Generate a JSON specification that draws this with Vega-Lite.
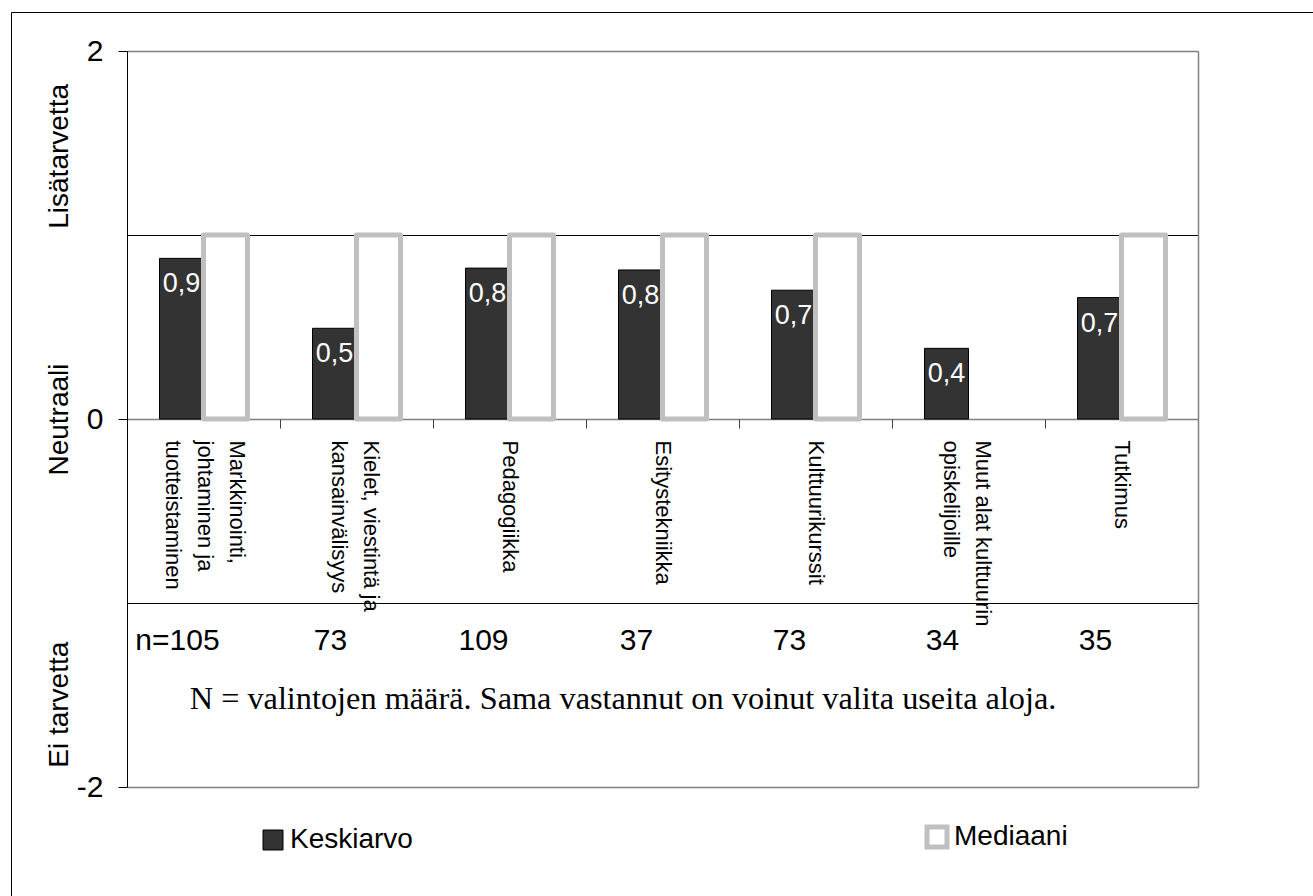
{
  "$schema": "https://vega.github.io/schema/vega-lite/v6.json",
  "autosize": {"type": "none"},
  "padding": {"left": 11, "top": 12, "right": -3, "bottom": -3},
  "width": 1305,
  "height": 887,
  "background": "white",
  "config": {
    "view": {"stroke": "#000000", "strokeWidth": 1, "fill": "white"},
    "font": "Liberation Sans",
    "locale": {"number": {"decimal": ",", "thousands": " ", "grouping": [3], "currency": ["", " €"], "minus": "-"}},
    "axis": {"labelColor": "#000000", "labelFont": "Liberation Sans", "title": null}
  },
  "datasets": {
    "cats": [
      {"cat": "Markkinointi,|johtaminen ja|tuotteistaminen", "Keskiarvo": 0.873, "Mediaani": 1, "n": "n=105"},
      {"cat": "Kielet, viestintä ja|kansainvälisyys", "Keskiarvo": 0.493, "Mediaani": 1, "n": "73"},
      {"cat": "Pedagogiikka", "Keskiarvo": 0.82, "Mediaani": 1, "n": "109"},
      {"cat": "Esitystekniikka", "Keskiarvo": 0.81, "Mediaani": 1, "n": "37"},
      {"cat": "Kulttuurikurssit", "Keskiarvo": 0.70, "Mediaani": 1, "n": "73"},
      {"cat": "Muut alat kulttuurin|opiskelijoille", "Keskiarvo": 0.384, "Mediaani": 0, "n": "34"},
      {"cat": "Tutkimus", "Keskiarvo": 0.66, "Mediaani": 1, "n": "35"}
    ],
    "note": [
      {"note": "N = valintojen määrä. Sama vastannut on voinut valita useita aloja."}
    ]
  },
  "data": {"name": "cats"},
  "resolve": {"axis": {"y": "independent"}},
  "layer": [
    {
      "transform": [{"fold": ["Keskiarvo", "Mediaani"], "as": ["series", "value"]}],
      "mark": {"type": "bar", "strokeJoin": "round"},
      "encoding": {
        "x": {
          "field": "cat", "type": "nominal", "sort": null,
          "scale": {"range": [116, 1187], "paddingInner": 0, "paddingOuter": 0},
          "axis": {
            "orient": "bottom", "offset": -480, "domain": false, "ticks": true,
            "tickBand": "extent", "tickSize": 9, "tickColor": "#404040",
            "labelAngle": 90, "labelAlign": "left", "labelBaseline": "middle",
            "labelPadding": 12, "labelFontSize": 22, "labelLineHeight": 32,
            "labelOffset": {
              "condition": [
                {"test": "indexof(datum.label, 'Markkinointi') >= 0", "value": 33},
                {"test": "indexof(datum.label, '|') >= 0", "value": 14}
              ],
              "value": 0
            },
            "labelExpr": "split(datum.label, '|')", "labelLimit": 400,
            "labelOverlap": false, "labelBound": false, "labelFlush": false,
            "labelColor": "#000000",
            "grid": false, "title": null
          }
        },
        "xOffset": {
          "field": "series", "type": "nominal", "sort": ["Keskiarvo", "Mediaani"],
          "scale": {"paddingInner": 0, "paddingOuter": 0.739}
        },
        "y": {
          "field": "value", "type": "quantitative",
          "scale": {"domain": [-2, 2], "range": [775, 39], "nice": false, "zero": false},
          "axis": {
            "orient": "left", "offset": -116, "values": [-2, 0, 2],
            "format": "d", "tickSize": 9, "tickColor": "#000000",
            "domainColor": "#000000", "domainWidth": 1,
            "grid": true, "gridColor": "#808080", "gridWidth": 1.5,
            "labelFontSize": 30, "labelPadding": 15, "title": null,
            "labelOverlap": false, "labelBound": false, "labelFlush": false
          }
        },
        "fill": {
          "field": "series", "type": "nominal",
          "scale": {"domain": ["Keskiarvo", "Mediaani"], "range": ["#333333", "#ffffff"]},
          "legend": {
            "orient": "none", "legendX": 248, "legendY": 811, "direction": "horizontal",
            "title": null, "symbolType": "square", "symbolSize": 400,
            "labelFontSize": 28, "labelFont": "Liberation Sans", "labelColor": "#000000",
            "columnPadding": 504, "labelOffset": 3, "padding": 0
          }
        },
        "stroke": {
          "field": "series", "type": "nominal",
          "scale": {"domain": ["Keskiarvo", "Mediaani"], "range": ["#000000", "#c0c0c0"]}
        },
        "strokeWidth": {
          "field": "series", "type": "ordinal",
          "scale": {"domain": ["Keskiarvo", "Mediaani"], "range": [1, 5]}
        },
        "strokeOpacity": {"condition": {"test": "datum.value === 0", "value": 0}, "value": 1}
      }
    },
    {
      "transform": [
        {"fold": ["Keskiarvo", "Mediaani"], "as": ["series", "value"]},
        {"filter": "datum.series === 'Keskiarvo'"}
      ],
      "mark": {"type": "text", "color": "white", "fontSize": 27, "baseline": "middle", "align": "center", "dy": 26},
      "encoding": {
        "x": {"field": "cat", "type": "nominal", "sort": null},
        "xOffset": {"field": "series", "type": "nominal", "sort": ["Keskiarvo", "Mediaani"]},
        "y": {
          "field": "value", "type": "quantitative",
          "axis": {
            "orient": "left", "offset": -116, "values": [1, -1],
            "grid": true, "gridColor": "#000000", "gridWidth": 1,
            "domain": false, "ticks": false, "labels": false, "title": null
          }
        },
        "text": {"field": "value", "type": "quantitative", "format": ".1f"}
      }
    },
    {
      "mark": {"type": "text", "fontSize": 30, "baseline": "middle", "align": "center", "color": "#000000"},
      "encoding": {
        "x": {"field": "cat", "type": "nominal", "sort": null, "bandPosition": 0.33},
        "y": {
          "datum": -1.207, "type": "quantitative",
          "axis": {
            "orient": "left", "offset": -116, "values": [1.43, 0, -1.55],
            "labelExpr": "datum.value > 1 ? 'Lisätarvetta' : (datum.value < -1 ? 'Ei tarvetta' : 'Neutraali')",
            "labelAngle": 270, "labelAlign": "center", "labelBaseline": "middle",
            "labelPadding": 68, "labelFontSize": 28,
            "ticks": false, "domain": false, "grid": false, "title": null,
            "labelOverlap": false, "labelBound": false, "labelFlush": false
          }
        },
        "text": {"field": "n", "type": "nominal"}
      }
    },
    {
      "data": {"name": "note"},
      "mark": {"type": "text", "font": "Liberation Serif", "fontSize": 32.3, "baseline": "middle", "align": "left", "color": "#000000"},
      "encoding": {
        "x": {"datum": "Markkinointi,|johtaminen ja|tuotteistaminen", "type": "nominal", "bandPosition": 0.41},
        "y": {
          "datum": -1.52, "type": "quantitative",
          "axis": {
            "orient": "right", "offset": -118, "domainColor": "#808080", "domainWidth": 1.5,
            "labels": false, "ticks": false, "grid": false, "title": null
          }
        },
        "text": {"field": "note", "type": "nominal"}
      }
    }
  ]
}
